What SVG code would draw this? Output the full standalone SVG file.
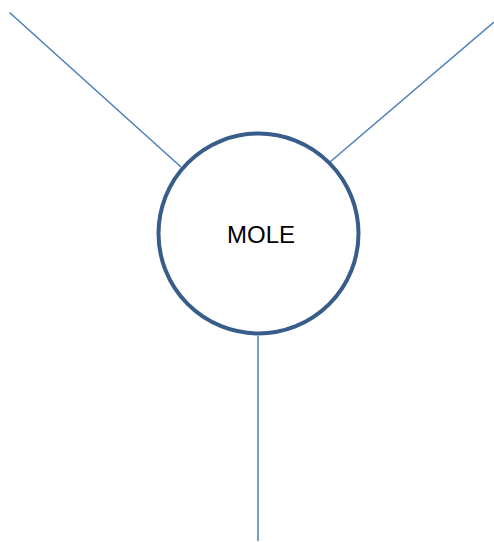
<svg xmlns="http://www.w3.org/2000/svg" width="494" height="542" viewBox="0 0 494 542">
<style>
.c{stroke:#4A7EBB;stroke-width:1.5;fill:none}
.n{fill:#FFFFFF;stroke:#385D8A;stroke-width:4}
.t{font-family:"Liberation Sans",Arial,sans-serif;font-size:24px;fill:#000}
</style>
<rect width="494" height="542" fill="#FFFFFF"/>
<g id="connectors">
<line class="c" x1="9.5" y1="12.5" x2="181" y2="167"/>
<line class="c" x1="494" y1="22" x2="330" y2="162"/>
<line class="c" x1="258" y1="336" x2="258" y2="541"/>
</g>
<g id="mole">
<circle class="n" cx="258.5" cy="233.5" r="100"/>
<text class="t" x="261" y="243" text-anchor="middle">MOLE</text>
</g>
</svg>
